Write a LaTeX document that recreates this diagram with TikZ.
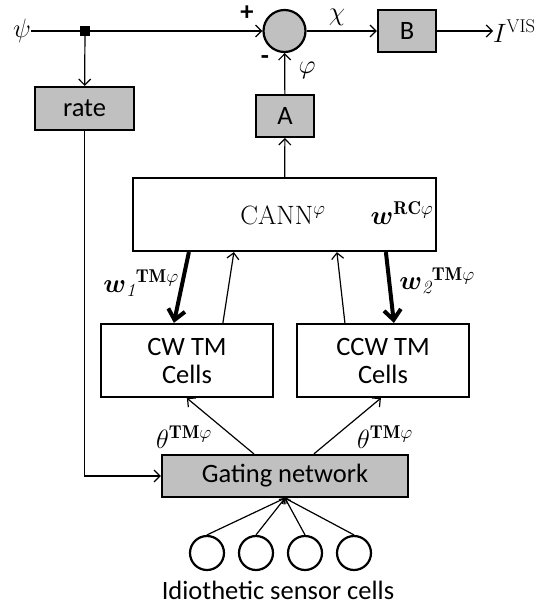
\RequirePackage{fix-cm}
\documentclass[tikz,border=0pt]{standalone}
\usepackage{amsmath,amssymb}
\usepackage{fontspec}
\setsansfont{Carlito}
\usepackage{xcolor}
\usepackage{tikz}
\usetikzlibrary{positioning, arrows.meta, calc}

\definecolor{boxgray}{HTML}{C0C0C0}
\newcommand{\bigfont}{\fontsize{26.5}{30}\selectfont}

\tikzset{
  graybox/.style={draw=black, line width=2.2pt, fill=boxgray, inner sep=0pt, font=\sffamily\bigfont},
  whitebox/.style={draw=black, line width=2.2pt, fill=white, inner sep=0pt, align=center, font=\sffamily\bigfont},
  conn/.style={line width=1.2pt, -{Straight Barb[length=6pt,width=12pt]}},
  heavy/.style={line width=4pt, -{Straight Barb[length=10pt,width=17pt]}},
  lbl/.style={inner sep=0pt, font=\bigfont},
  sensor/.style={circle, draw=black, line width=2.2pt, minimum size=34pt, inner sep=0pt}
}

\begin{document}
\begin{tikzpicture}[x=1pt, y=-1pt]
  \useasboundingbox (0,0) rectangle (539,605);

  % top row
  \node[lbl] (psi) at (22,31) {$\psi$};
  \node[fill=black, minimum size=10pt, inner sep=0pt] (split) at (85,31) {};
  \node[circle, draw=black, line width=2.2pt, fill=boxgray, minimum size=42pt, inner sep=0pt] (sum) at (284.5,31) {};
  \node[graybox, minimum width=58pt, minimum height=42pt] (B) at (407,31) {B};
  \node[lbl, anchor=west] (Ivis) at (493,31) {$I^{\mathrm{VIS}}$};
  \node[lbl, font=\sffamily\bfseries\bigfont] (plus) at (247,13) {+};
  \node[lbl, font=\sffamily\bfseries\bigfont] (minus) at (265,60) {-};
  \node[lbl] (chi) at (337,17) {$\chi$};
  \node[lbl] (phi) at (307,70) {$\varphi$};

  % boxes
  \node[graybox, minimum width=99pt, minimum height=43pt] (rate) at (84.5,108.5) {rate};
  \node[graybox, minimum width=58pt, minimum height=42pt] (A) at (285,116) {A};
  \node[whitebox, minimum width=303pt, minimum height=73pt] (cann) at (284.5,214.5) {};
  \node[lbl] (canntxt) at (283,215) {CANN$^{\varphi}$};
  \node[lbl] (wrc) at (402,213) {$\boldsymbol{w}^{\mathbf{RC}\varphi}$};
  \node[whitebox, minimum width=172pt, minimum height=73pt] (cw) at (187,360.5) {CW TM\\[-2pt]Cells};
  \node[whitebox, minimum width=172pt, minimum height=73pt] (ccw) at (383,360.5) {CCW TM\\[-2pt]Cells};
  \node[graybox, minimum width=246pt, minimum height=42pt] (gate) at (285,476) {Gating network};

  % sensor cells
  \foreach \i/\x in {1/207, 2/256, 3/305, 4/354}
    \node[sensor] (s\i) at (\x,553) {};
  \node[lbl, font=\sffamily\bigfont] (senstxt) at (278,590) {Idiothetic sensor cells};

  % labels on the links
  \node[lbl] (w1) at (141,283) {$\boldsymbol{w}_{\mathit{1}}{}^{\mathbf{TM}\varphi}$};
  \node[lbl] (w2) at (437,281) {$\boldsymbol{w}_{\mathit{2}}{}^{\mathbf{TM}\varphi}$};
  \node[lbl] (th1) at (184,437) {$\theta^{\mathbf{TM}\varphi}$};
  \node[lbl] (th2) at (385,437) {$\theta^{\mathbf{TM}\varphi}$};

  % connectors
  \draw[line width=1.2pt] (psi) -- (split);
  \draw[conn] (split) -- (sum);
  \draw[conn] (sum) -- (B);
  \draw[conn] (B) -- (Ivis);
  \draw[conn] (split) -- (rate);
  \draw[conn] (rate.south) |- (gate.west);
  \draw[conn] (cann) -- (A);
  \draw[conn] (A) -- (sum);

  \draw[heavy] ($(cann.south west)+(57,0)$) -- ($(cw.north west)+(74,0)$);
  \draw[conn] ($(cw.north west)+(123,0)$) -- ($(cann.south west)+(102,0)$);
  \draw[conn] ($(ccw.north west)+(49,0)$) -- ($(cann.south west)+(205,0)$);
  \draw[heavy] ($(cann.south west)+(254,0)$) -- ($(ccw.north west)+(98,0)$);

  \draw[conn] ($(gate.north west)+(93,0)$) -- ($(cw.south west)+(87,0)$);
  \draw[conn] ($(gate.north west)+(153,0)$) -- ($(ccw.south west)+(85,0)$);

  \foreach \i in {1,...,4}
    \draw[line width=1.2pt, -{Straight Barb[length=4pt,width=8pt]}] (s\i.north) -- (gate.south);
\end{tikzpicture}
\end{document}
